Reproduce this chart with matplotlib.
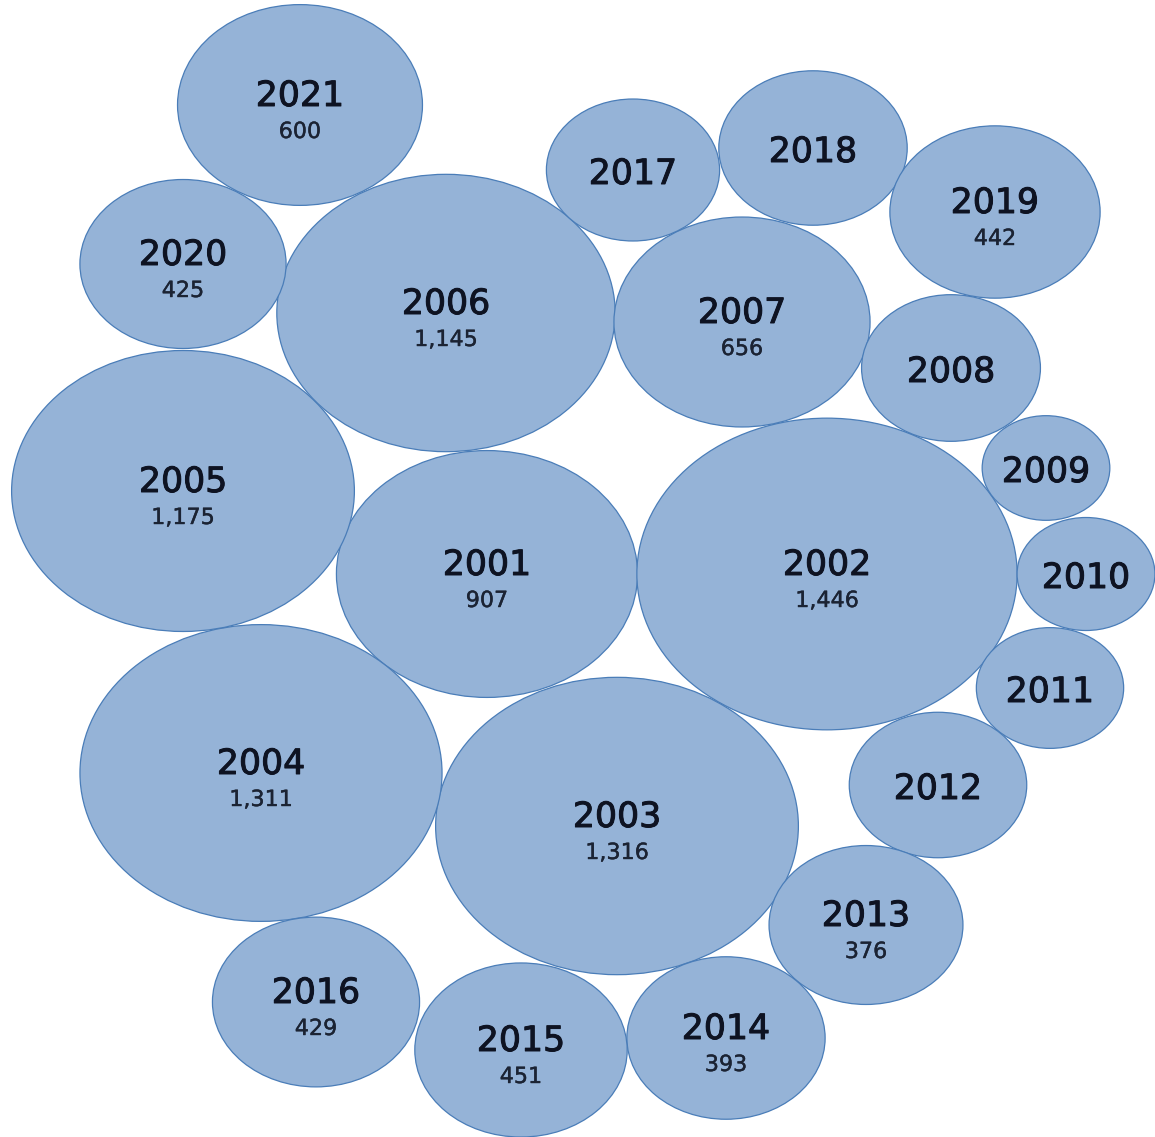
import matplotlib
matplotlib.use("Agg")
import matplotlib.pyplot as plt
import numpy as np
from matplotlib.path import Path
from matplotlib.markers import MarkerStyle
from matplotlib.transforms import Affine2D
import matplotlib.patheffects as pe

# ---- data ----
years = [2001, 2002, 2003, 2004, 2005, 2006, 2007, 2008, 2009, 2010, 2011,
         2012, 2013, 2014, 2015, 2016, 2017, 2018, 2019, 2020, 2021]
values = [907, 1446, 1316, 1311, 1175, 1145, 656, 320, 163, 190, 217,
          315, 376, 393, 451, 429, 300, 355, 442, 425, 600]
show_value = [True, True, True, True, True, True, True, False, False, False, False,
              False, True, True, True, True, False, False, True, True, True]
x_pos = [487, 827, 617, 261, 183, 446, 742, 951, 1046, 1086, 1050,
         938, 866, 726, 521, 316, 633, 813, 995, 183, 300]
y_pos = [574, 574, 826, 773, 491, 313, 322, 368, 468, 574, 688,
         785, 925, 1038, 1050, 1002, 170, 148, 212, 264, 105]

# ---- style ----
W, H, DPI = 1155, 1137, 100
fill = "#95B3D7"
edge = "#4A7DB8"
txt_year = "#0e1322"
txt_val = "#1b2333"
FONT = ["DejaVu Sans"]

fig = plt.figure(figsize=(W / DPI, H / DPI), dpi=DPI)
ax = fig.add_axes([0, 0, 1, 1])
ax.set_xlim(0, W)
ax.set_ylim(H, 0)
ax.axis("off")

# ellipse marker (bubbles are stretched horizontally)
stretch = 1.22
ell = Path.unit_circle().transformed(Affine2D().scale(stretch, 1.0))
marker = MarkerStyle(ell)

px_per_sqrt = 10.0  # bubble width in pixels per sqrt(value)
pt_per_px = 72.0 / DPI
sizes = [(px_per_sqrt * np.sqrt(v) * pt_per_px) ** 2 for v in values]

ax.scatter(x_pos, y_pos, s=sizes, marker=marker, facecolor=fill,
           edgecolor=edge, linewidths=0.9, zorder=2)

fx_year = [pe.withStroke(linewidth=0.7, foreground=txt_year)]
fx_val = [pe.withStroke(linewidth=0.3, foreground=txt_val)]

for yr, v, sv, x, y in zip(years, values, show_value, x_pos, y_pos):
    if sv:
        ax.text(x, y + 1, str(yr), ha="center", va="baseline", fontsize=25,
                color=txt_year, family=FONT, path_effects=fx_year, zorder=3)
        ax.text(x, y + 33, f"{v:,}", ha="center", va="baseline", fontsize=16,
                color=txt_val, family=FONT, path_effects=fx_val, zorder=3)
    else:
        ax.text(x, y + 14, str(yr), ha="center", va="baseline", fontsize=25,
                color=txt_year, family=FONT, path_effects=fx_year, zorder=3)

fig.savefig("out.png", dpi=DPI)
